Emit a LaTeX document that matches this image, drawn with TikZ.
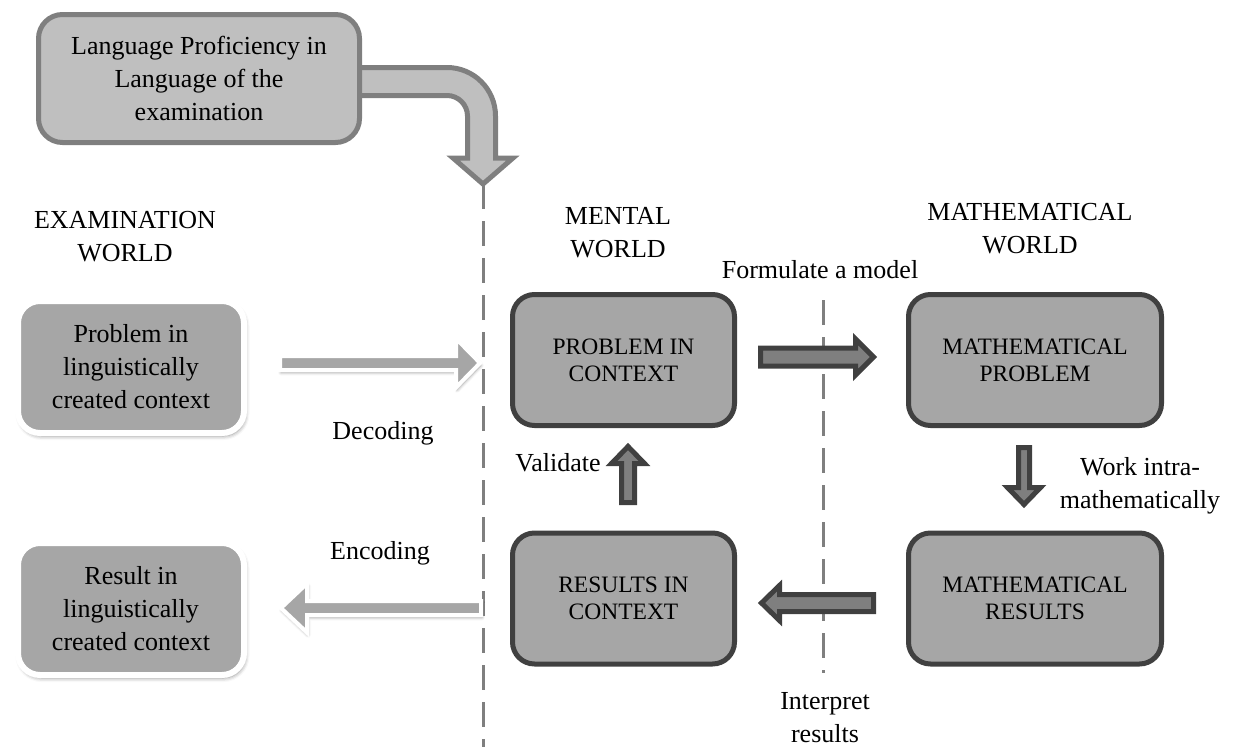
\documentclass[tikz,border=0pt]{standalone}
\usepackage{fontspec}
\setmainfont{Liberation Serif}
\usetikzlibrary{shadows.blur}

\definecolor{boxgray}{HTML}{A6A6A6}
\definecolor{darkline}{HTML}{404040}
\definecolor{midgray}{HTML}{7F7F7F}
\definecolor{palegray}{HTML}{BFBFBF}

% straight block arrow: style, tail, angle, length, half shaft, half head, head length
\newcommand\blockarrow[7]{%
  \draw[#1, shift={(#2)}, rotate=#3]
    (0,-#5) -- (#4-#7,-#5) -- (#4-#7,-#6) -- (#4,0) --
    (#4-#7,#6) -- (#4-#7,#5) -- (0,#5) -- cycle;}

\begin{document}
\begin{tikzpicture}[x=1pt,y=-1pt,
  mixfont/.style={font={\fontsize{26pt}{33pt}\selectfont}},
  capsfont/.style={font={\fontsize{23.5pt}{27pt}\selectfont}},
  worldbox/.style={draw=darkline, line width=5pt, fill=boxgray,
    rounded corners=22pt, minimum width=222pt, minimum height=131pt,
    align=center, capsfont, inner sep=0pt},
  textbox/.style={draw=white, line width=6pt, fill=boxgray,
    rounded corners=22pt, minimum width=226pt, minimum height=132pt,
    align=center, mixfont, inner sep=0pt,
    blur shadow={shadow xshift=1.5pt, shadow yshift=-3pt,
      shadow blur radius=4pt, shadow opacity=45}},
  langbox/.style={draw=midgray, line width=5pt, fill=palegray,
    rounded corners=24pt, minimum width=321pt, minimum height=128pt,
    align=center, mixfont, inner sep=0pt},
  langarrow/.style={draw=midgray, line width=5pt, fill=palegray},
  label/.style={align=center, mixfont, inner sep=0pt},
  darrow/.style={draw=darkline, fill=midgray, line width=5pt},
  larrow/.style={draw=white, fill=boxgray, line width=4pt,
    blur shadow={shadow xshift=1pt, shadow yshift=-2.5pt,
      shadow blur radius=3pt, shadow opacity=40}},
  divider/.style={draw=midgray, line width=3pt, dash pattern=on 25pt off 12pt}]

\useasboundingbox (0,0) rectangle (1235,747);

% dividing lines between the worlds
\coordinate (langtip) at (483,184);
\coordinate (lowend) at (483,747);
\coordinate (mathtop) at (823,300);
\coordinate (mathend) at (823,673);
\draw[divider] (langtip) -- (lowend);
\draw[divider] (mathtop) -- (mathend);

% bent arrow out of the language box
\draw[langarrow] (350,67.5) -- (447,67.5)
  .. controls (473.8,67.5) and (495.5,89.2) .. (495.5,116)
  -- (495.5,158) -- (513,158) -- (langtip) -- (453,158) -- (467.5,158)
  -- (467.5,116) .. controls (467.5,104.7) and (458.3,95.5) .. (447,95.5)
  -- (350,95.5) -- cycle;
\node[langbox] (lang) at (199,78.5) {Language Proficiency in\\Language of the\\examination};

% world headings
\node[label] (examw) at (125,237) {EXAMINATION\\WORLD};
\node[label] (mentw) at (618,233) {MENTAL\\WORLD};
\node[label] (mathw) at (1030,229) {MATHEMATICAL\\WORLD};

% boxes
\node[textbox] (prob) at (131,367) {Problem in\\linguistically\\created context};
\node[textbox] (res) at (131,609) {Result in\\linguistically\\created context};
\node[worldbox] (pic) at (623.5,360) {PROBLEM IN\\CONTEXT};
\node[worldbox] (ric) at (623.5,598.5) {RESULTS IN\\CONTEXT};
\node[worldbox, minimum width=253pt] (mp) at (1035,360) {MATHEMATICAL\\PROBLEM};
\node[worldbox, minimum width=253pt] (mr) at (1035,598.5) {MATHEMATICAL\\RESULTS};

% arrow ends
\coordinate (dec) at (280,363);
\coordinate (enc) at (481,608);
\coordinate (form) at (760.5,357);
\coordinate (interp) at (873.5,603);
\coordinate (work) at (1024,447.5);
\coordinate (valid) at (628,502.5);

% arrows
\blockarrow{larrow}{dec}{0}{200}{7}{24.5}{24}
\blockarrow{larrow}{enc}{0}{-200}{7}{24.5}{-26}
\blockarrow{darrow}{form}{0}{113}{9}{18}{18}
\blockarrow{darrow}{interp}{0}{-112}{8.5}{17.5}{-18}
\blockarrow{darrow}{work}{-90}{57}{5.5}{16.5}{17}
\blockarrow{darrow}{valid}{90}{56}{6.5}{16.5}{17}

% arrow labels
\node[label] (formlbl) at (820,270) {Formulate a model};
\node[label] (declbl) at (383,433) {Decoding};
\node[label] (enclbl) at (380,553) {Encoding};
\node[label] (vallbl) at (558,463) {Validate};
\node[label] (worklbl) at (1140,486) {Work intra-\\mathematically};
\node[label] (intlbl) at (825,718) {Interpret\\results};
\end{tikzpicture}
\end{document}
